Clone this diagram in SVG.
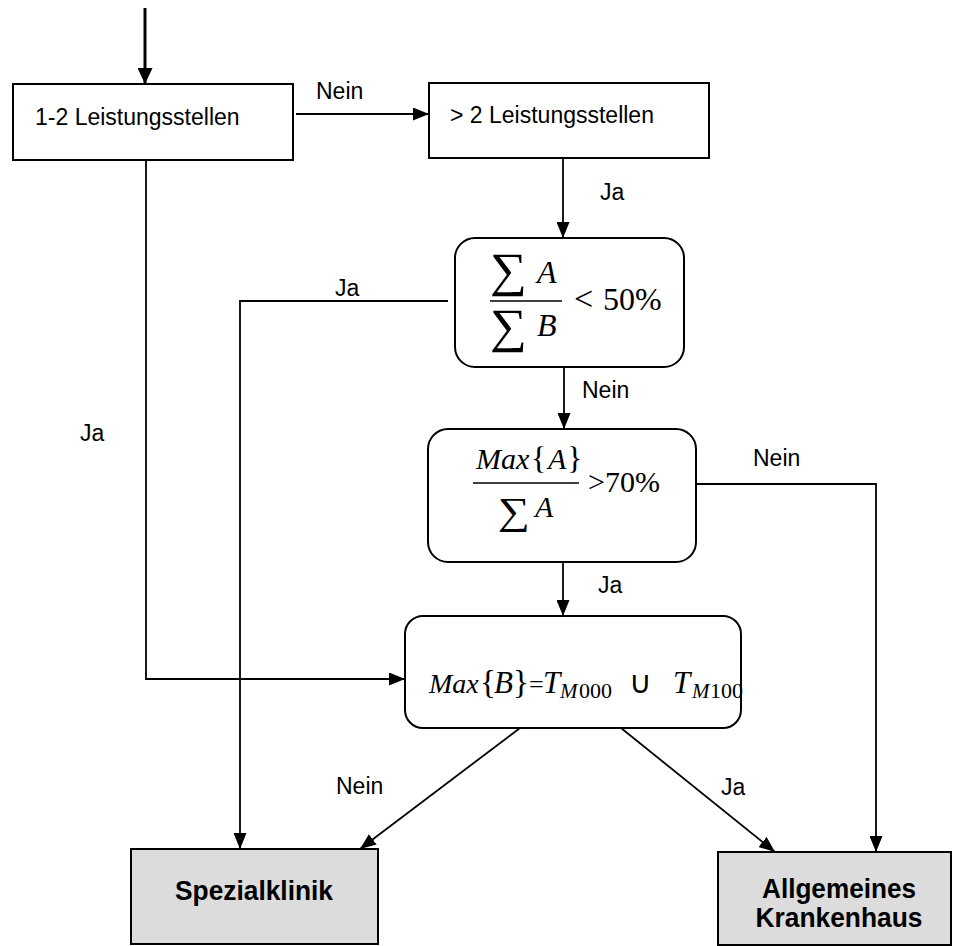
<svg xmlns="http://www.w3.org/2000/svg" width="953" height="946" viewBox="0 0 953 946">
<style>
.box{fill:#fff;stroke:#000;stroke-width:2}
.term{fill:#dcdcdc;stroke:#000;stroke-width:2}
.lbl{font-family:"Liberation Sans",Arial,sans-serif;font-size:23px;fill:#000}
.bold{font-family:"Liberation Sans",Arial,sans-serif;font-size:28px;font-weight:bold;fill:#000}
.m{font-family:"Liberation Serif","Times New Roman",serif;fill:#000}
.i{font-style:italic}
.con{fill:none;stroke:#000;stroke-width:1.8}
</style>
<defs>
<marker id="ah" markerUnits="userSpaceOnUse" markerWidth="16" markerHeight="13" refX="16" refY="6.5" orient="auto">
<path d="M0,0 L16,6.5 L0,13 z" fill="#000"/>
</marker>
<marker id="ahb" markerUnits="userSpaceOnUse" markerWidth="16" markerHeight="15" refX="16" refY="7.5" orient="auto">
<path d="M0,0 L16,7.5 L0,15 z" fill="#000"/>
</marker>
</defs>
<g id="connectors">
<line x1="145" y1="8" x2="145" y2="84" stroke="#000" stroke-width="3" marker-end="url(#ahb)"/>
<line class="con" x1="296" y1="114" x2="429" y2="114" marker-end="url(#ah)"/>
<line class="con" x1="563" y1="158" x2="563" y2="238" marker-end="url(#ah)"/>
<polyline class="con" points="448,301 240,301 240,849" marker-end="url(#ah)"/>
<line class="con" x1="564" y1="367" x2="564" y2="429" marker-end="url(#ah)"/>
<polyline class="con" points="696,484 876,484 876,852" marker-end="url(#ah)"/>
<line class="con" x1="563" y1="562" x2="563" y2="616" marker-end="url(#ah)"/>
<polyline class="con" points="146,160 146,679 405,679" marker-end="url(#ah)"/>
<line class="con" x1="520" y1="728" x2="360" y2="849" marker-end="url(#ah)"/>
<line class="con" x1="621" y1="728" x2="775" y2="852" marker-end="url(#ah)"/>
<text class="lbl" x="316" y="99">Nein</text>
<text class="lbl" x="600" y="200">Ja</text>
<text class="lbl" x="335" y="296">Ja</text>
<text class="lbl" x="80" y="441">Ja</text>
<text class="lbl" x="582" y="398">Nein</text>
<text class="lbl" x="753" y="466">Nein</text>
<text class="lbl" x="598" y="593">Ja</text>
<text class="lbl" x="336" y="794">Nein</text>
<text class="lbl" x="721" y="795">Ja</text>
</g>
<g id="n1">
<rect class="box" x="13" y="84" width="280" height="76"/>
<text class="lbl" x="35" y="125">1-2 Leistungsstellen</text>
</g>
<g id="n2">
<rect class="box" x="429" y="83" width="280" height="75"/>
<text class="lbl" x="450" y="123">&gt; 2 Leistungsstellen</text>
</g>
<g id="d1">
<rect class="box" x="455" y="238" width="229" height="129" rx="20"/>
<text class="m" x="490" y="286" font-size="48" textLength="37" lengthAdjust="spacingAndGlyphs">∑</text>
<text class="m i" x="537" y="283" font-size="32">A</text>
<line x1="490" y1="301" x2="562" y2="301" stroke="#000" stroke-width="1.5"/>
<text class="m" x="490" y="342" font-size="48" textLength="37" lengthAdjust="spacingAndGlyphs">∑</text>
<text class="m i" x="537" y="336" font-size="32">B</text>
<text class="m" y="310" font-size="32"><tspan x="574" font-size="34">&lt;</tspan><tspan x="603">50%</tspan></text>
</g>
<g id="d2">
<rect class="box" x="428" y="429" width="268" height="133" rx="20"/>
<text class="m" y="469" font-size="30"><tspan class="i" x="476">Max</tspan><tspan x="531" font-size="32">{</tspan><tspan class="i" x="548">A</tspan><tspan x="567" font-size="32">}</tspan></text>
<line x1="473" y1="483" x2="579" y2="483" stroke="#000" stroke-width="1.5"/>
<text class="m" x="498" y="524" font-size="38" textLength="32" lengthAdjust="spacingAndGlyphs">∑</text>
<text class="m i" x="535" y="517" font-size="30">A</text>
<text class="m" x="588" y="492" font-size="30">&gt;70%</text>
</g>
<g id="d3">
<rect class="box" x="405" y="616" width="336" height="112" rx="18"/>
<text class="m" y="693" font-size="31"><tspan class="i" x="429" font-size="28">Max</tspan><tspan x="480" font-size="33">{</tspan><tspan class="i" x="494">B</tspan><tspan x="513" font-size="33">}</tspan><tspan x="529" font-size="26">=</tspan><tspan class="i" x="543">T</tspan><tspan class="i" x="560" y="698" font-size="21">M</tspan><tspan x="579" font-size="22">000</tspan><tspan x="629" y="693">∪</tspan><tspan class="i" x="673">T</tspan><tspan class="i" x="692" y="698" font-size="21">M</tspan><tspan x="710" font-size="22">100</tspan></text>
</g>
<g id="t1">
<rect class="term" x="131" y="849" width="247" height="95"/>
<text class="bold" x="254" y="900" text-anchor="middle" textLength="158" lengthAdjust="spacingAndGlyphs">Spezialklinik</text>
</g>
<g id="t2">
<rect class="term" x="718" y="852" width="233" height="93"/>
<text class="bold" x="839" y="898" text-anchor="middle" textLength="154" lengthAdjust="spacingAndGlyphs">Allgemeines</text>
<text class="bold" x="839" y="927" text-anchor="middle" textLength="167" lengthAdjust="spacingAndGlyphs">Krankenhaus</text>
</g>
</svg>
